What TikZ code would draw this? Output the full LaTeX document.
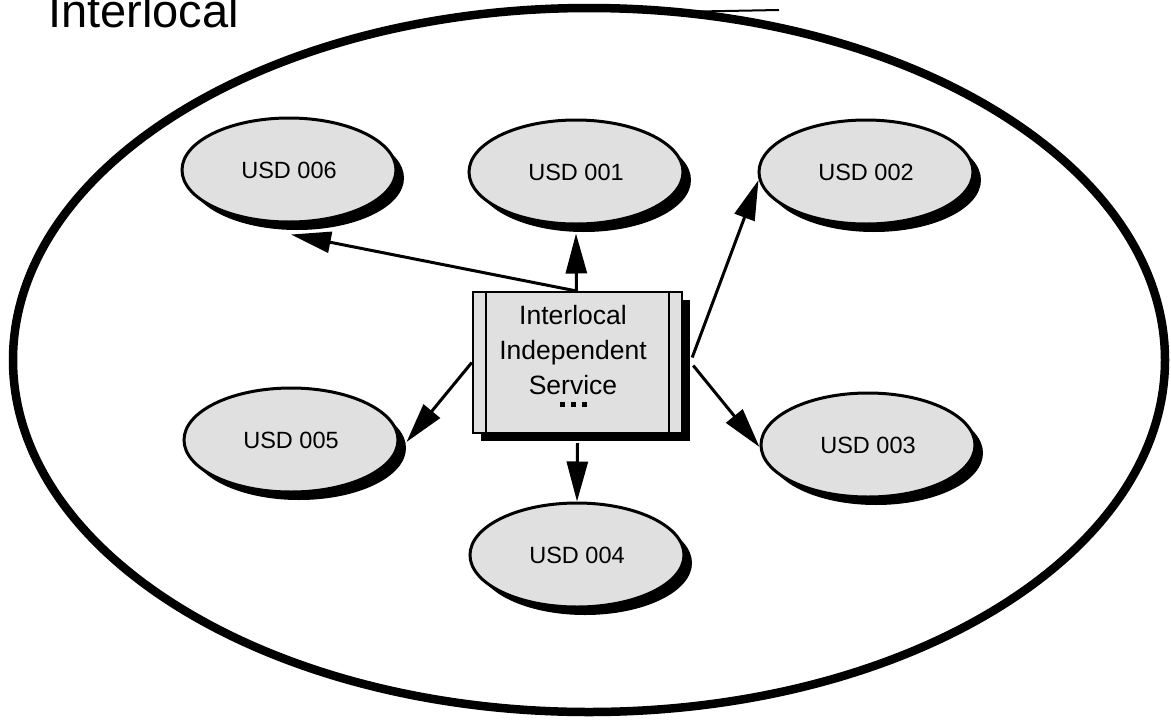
\documentclass[tikz,border=0pt]{standalone}
\usepackage{fontspec}
\setmainfont{Liberation Sans}
\usetikzlibrary{shapes.geometric,shadows,arrows.meta,calc}
\begin{document}
\begin{tikzpicture}[x=1pt,y=-1pt,
  usd/.style={ellipse, draw=black, line width=3pt, fill=black!12,
    minimum width=214pt, minimum height=104pt, inner sep=0pt,
    font=\fontsize{23.5}{28}\selectfont,
    drop shadow={shadow xshift=8pt, shadow yshift=-8pt, fill=black, opacity=1}},
  svcbox/.style={rectangle, draw=black, line width=2.4pt, fill=black!12,
    minimum width=209pt, minimum height=141pt, inner sep=0pt,
    drop shadow={shadow xshift=8pt, shadow yshift=-8pt, fill=black, opacity=1}},
  arr/.style={line width=3pt, -{Triangle[length=40pt,width=21pt]}},
  region/.style={ellipse, draw=black, line width=8.5pt, minimum width=1152pt,
    minimum height=704pt, inner sep=0pt}
]
\useasboundingbox (0,0) rectangle (1171,721);

% outer region
\node[region] (region) at (589,360) {};
\coordinate (strayA) at (682,11.8);
\coordinate (strayB) at (779,10);
\draw[line width=2pt] (strayA) -- (strayB);

% title
\node[anchor=base west, inner sep=0pt, font=\fontsize{47}{50}\selectfont] (title) at (48,27) {Interlocal};

% districts
\node[usd] (e6) at (289,170) {USD 006};
\node[usd] (e1) at (576,172) {USD 001};
\node[usd] (e2) at (866,172) {USD 002};
\node[usd] (e5) at (291,440) {USD 005};
\node[usd] (e3) at (868,445) {USD 003};
\node[usd] (e4) at (577,555) {USD 004};

% central service box
\node[svcbox] (box) at (577.5,362.5) {};
\draw[line width=2.4pt] ($(box.north west)+(14,0)$) -- ($(box.south west)+(14,0)$);
\draw[line width=2.4pt] ($(box.north east)+(-14,0)$) -- ($(box.south east)+(-14,0)$);
\node[anchor=north, inner sep=0pt, align=center,
  font=\fontsize{26.5}{35}\selectfont] (boxtext) at (573,305.5)
  {Interlocal\\Independent\\Service\\[-23pt]\rule{5pt}{5pt}\hspace{6pt}\rule{5pt}{5pt}\hspace{6pt}\rule{5pt}{5pt}};

% connectors
\draw[arr] ($(box.north)+(-2,0)$) -- ($(e6.south)+(2,11)$);
\draw[arr] ($(box.north)+(-1,0)$) -- ($(e1.south)+(0,8)$);
\draw[arr] ($(box.east)+(9,-5)$) -- ($(e2.west)+(1,8)$);
\draw[arr] (box.west) -- ($(e5.east)+(7,2)$);
\draw[arr] ($(box.east)+(10,3)$) -- ($(e3.west)+(0,2)$);
\draw[arr] ($(box.south)+(0,9)$) -- (e4.north);
\end{tikzpicture}
\end{document}
